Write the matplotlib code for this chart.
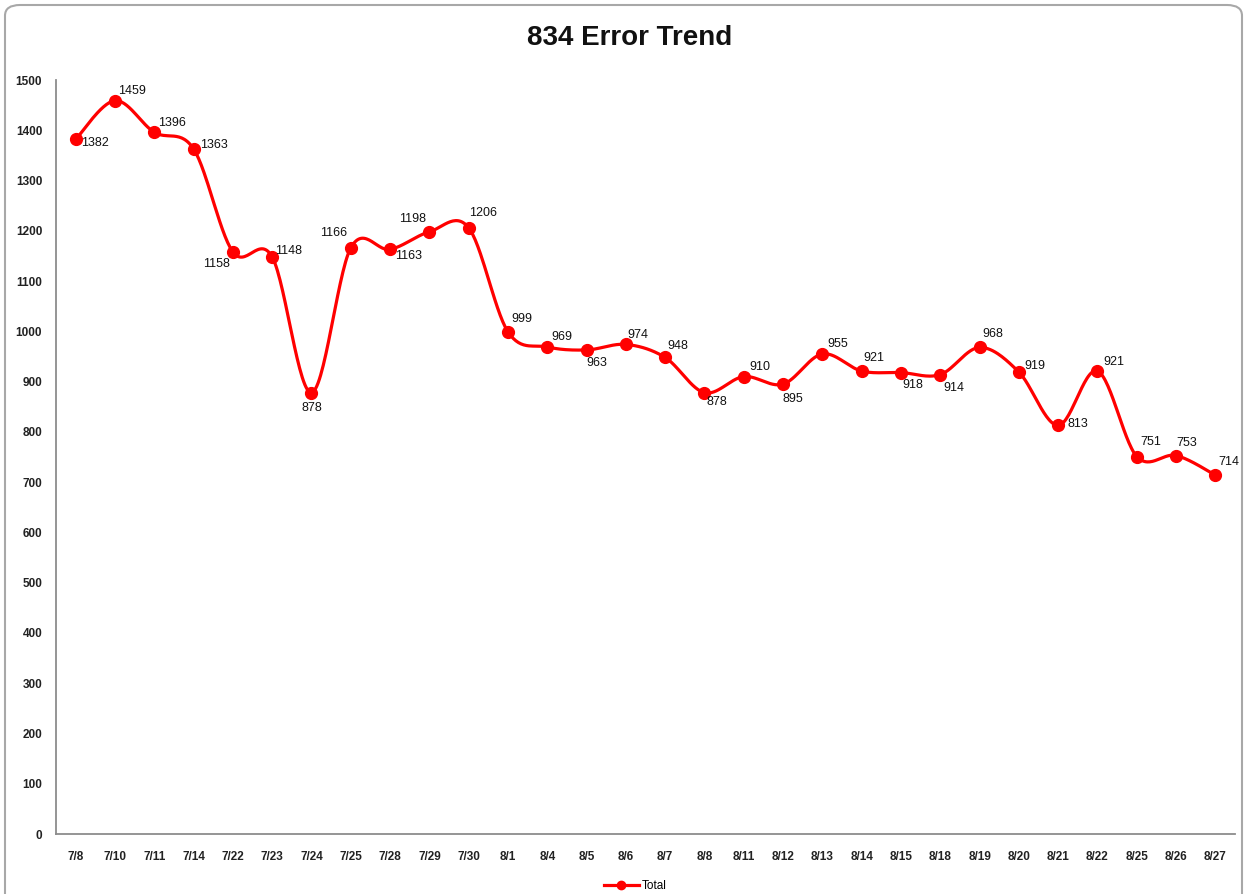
import numpy as np
import matplotlib
matplotlib.use('Agg')
from matplotlib import pyplot as plt
from matplotlib.patches import FancyBboxPatch

dates = ['7/8', '7/10', '7/11', '7/14', '7/22', '7/23', '7/24', '7/25', '7/28', '7/29',
         '7/30', '8/1', '8/4', '8/5', '8/6', '8/7', '8/8', '8/11', '8/12', '8/13',
         '8/14', '8/15', '8/18', '8/19', '8/20', '8/21', '8/22', '8/25', '8/26', '8/27']
totals = [1382, 1459, 1396, 1363, 1158, 1148, 878, 1166, 1163, 1198,
          1206, 999, 969, 963, 974, 948, 878, 910, 895, 955,
          921, 918, 914, 968, 919, 813, 921, 751, 753, 714]

# label offsets in pixels (dx right, dy up)
label_offsets = [(19, -4), (17, 10), (18, 9), (20, 4), (-16, -12), (16, 6), (0, -15),
                 (-17, 15), (18, -7), (-17, 13), (14, 15), (14, 13), (15, 10), (10, -13),
                 (12, 9), (13, 11), (12, -9), (16, 10), (10, -15), (15, 10), (12, 13),
                 (12, -12), (14, -13), (13, 13), (16, 6), (20, 1), (16, 9), (14, 15),
                 (11, 13), (13, 13)]

FONT = ['Liberation Sans Narrow', 'Liberation Sans', 'DejaVu Sans']
plt.rcParams['font.family'] = FONT


def catmull_rom(xs, ys, n=30):
    xs = np.asarray(xs, float)
    ys = np.asarray(ys, float)
    px = np.concatenate([[xs[0]], xs, [xs[-1]]])
    py = np.concatenate([[ys[0]], ys, [ys[-1]]])
    outx, outy = [], []
    t = np.linspace(0, 1, n, endpoint=False)
    for i in range(1, len(px) - 2):
        for p, out in ((px, outx), (py, outy)):
            p0, p1, p2, p3 = p[i - 1], p[i], p[i + 1], p[i + 2]
            out.extend(0.5 * ((2 * p1) + (-p0 + p2) * t +
                              (2 * p0 - 5 * p1 + 4 * p2 - p3) * t ** 2 +
                              (-p0 + 3 * p1 - 3 * p2 + p3) * t ** 3))
    outx.append(xs[-1])
    outy.append(ys[-1])
    return np.array(outx), np.array(outy)


fig = plt.figure(figsize=(12.45, 8.94), dpi=100)
ax = fig.add_axes([0.045, 0.0671, 0.947, 0.8434])

x = np.arange(len(dates))
sx, sy = catmull_rom(x, totals)
ax.plot(sx, sy, color='#ff0000', lw=2.3, zorder=2)
ax.plot(x, totals, 'o', color='#ff0000', ms=8.5, zorder=3)

for xi, v, (dx, dy) in zip(x, totals, label_offsets):
    ax.annotate(str(v), (xi, v), xytext=(dx, dy), textcoords='offset pixels',
                ha='center', va='center', fontsize=9, color='#111111')

ax.set_xlim(-0.5, len(dates) - 0.5)
ax.set_ylim(0, 1500)
ax.set_yticks(range(0, 1501, 100))
ax.set_xticks(x)
ax.set_xticklabels(dates)
ax.tick_params(length=0, labelsize=8.5, colors='#222222')
ax.tick_params(axis='y', pad=10)
ax.tick_params(axis='x', pad=12)
for lab in ax.get_xticklabels() + ax.get_yticklabels():
    lab.set_fontweight('bold')
for s in ['top', 'right']:
    ax.spines[s].set_visible(False)
for s in ['left', 'bottom']:
    ax.spines[s].set_color('#8c8c8c')
    ax.spines[s].set_linewidth(1.3)

fig.text(0.506, 0.957, '834 Error Trend', ha='center', va='center',
         fontsize=20, fontweight='bold', color='#111111')

handle, = ax.plot([], [], '-o', color='#ff0000', lw=2.3, ms=6)
fig.legend([handle], ['Total'], loc='center', bbox_to_anchor=(0.51, 0.009),
           frameon=False, fontsize=8.5, handlelength=3, handletextpad=0.2)

border = FancyBboxPatch((5 / 1245, -0.05), 1237 / 1245, 1.05 - 5 / 894,
                        boxstyle='round,pad=0,rounding_size=0.012',
                        transform=fig.transFigure, fill=False,
                        edgecolor='#a8a8a8', lw=1.5)
fig.patches.append(border)

fig.savefig('out.png', dpi=100)
